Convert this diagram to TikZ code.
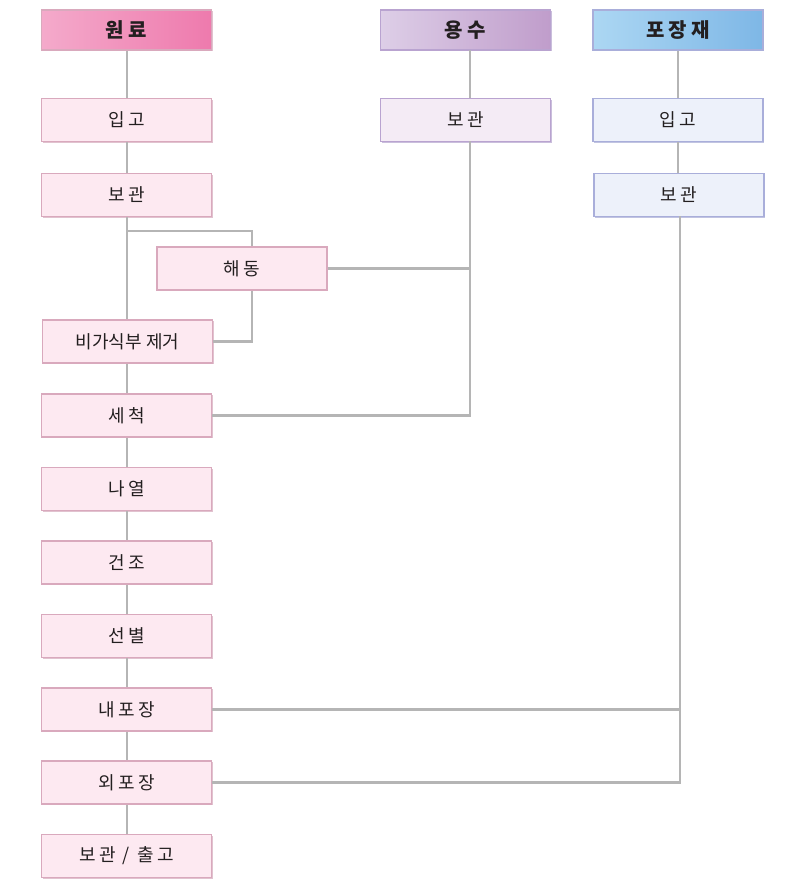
\documentclass[tikz,border=0pt]{standalone}
\usepackage{fontspec}
\setmainfont{Noto Sans CJK KR}
\newfontfamily\ks[LetterSpace=18]{Noto Sans CJK KR}
\newfontfamily\kh[LetterSpace=22]{Noto Sans CJK KR}
\usetikzlibrary{shadows}
\definecolor{lineg}{HTML}{B5B5B5}
\definecolor{pinkfill}{HTML}{FDE9F1}
\definecolor{pinkedge}{HTML}{D9A9BD}
\definecolor{pinkshadow}{HTML}{C98FA8}
\definecolor{lavfill}{HTML}{F4EBF5}
\definecolor{lavedge}{HTML}{B9A3D0}
\definecolor{lavshadow}{HTML}{9F88C0}
\definecolor{bluefill}{HTML}{EDF1FA}
\definecolor{blueedge}{HTML}{A9AEDA}
\definecolor{blueshadow}{HTML}{8E93C8}
\definecolor{txt}{HTML}{231F20}
\tikzset{
  base/.style={rectangle, minimum width=127.5pt, minimum height=32.25pt, inner sep=0pt,
     text=txt, font=\ks\fontsize{13.5}{16}\selectfont, line width=0.9pt},
  pinkbox/.style={base, fill=pinkfill, draw=pinkedge,
     drop shadow={shadow xshift=1pt, shadow yshift=-1pt, fill=pinkshadow, opacity=0.55}},
  lavbox/.style={base, fill=lavfill, draw=lavedge,
     drop shadow={shadow xshift=1pt, shadow yshift=-1pt, fill=lavshadow, opacity=0.55}},
  bluebox/.style={base, fill=bluefill, draw=blueedge,
     drop shadow={shadow xshift=1pt, shadow yshift=-1pt, fill=blueshadow, opacity=0.55}},
  head/.style={base, minimum height=30pt, font=\kh\bfseries\fontsize{15}{18}\selectfont},
  conn/.style={draw=lineg, line width=1.6pt},
}
\begin{document}
\begin{tikzpicture}[x=0.75pt,y=-0.75pt]
\useasboundingbox (0,0) rectangle (800,891);
% headers
\node[head, left color={rgb,255:red,244;green,170;blue,203}, right color={rgb,255:red,238;green,122;blue,173},
      draw=pinkedge, drop shadow={shadow xshift=1pt, shadow yshift=-1pt, fill=pinkshadow, opacity=0.55}] (h1) at (126.5,30) {원료};
\node[head, left color={rgb,255:red,221;green,206;blue,231}, right color={rgb,255:red,192;green,157;blue,203},
      draw=lavedge, drop shadow={shadow xshift=1pt, shadow yshift=-1pt, fill=lavshadow, opacity=0.55}] (h2) at (465.5,30) {용수};
\node[head, left color={rgb,255:red,172;green,215;blue,243}, right color={rgb,255:red,126;green,183;blue,230},
      draw=blueedge, drop shadow={shadow xshift=1pt, shadow yshift=-1pt, fill=blueshadow, opacity=0.55}] (h3) at (678,30) {포장재};
% main column
\node[pinkbox] (a1) at (126.5,120) {입고};
\node[pinkbox] (a2) at (126.5,195) {보관};
\node[pinkbox] (hd) at (242,268.5) {해동};
\node[pinkbox, font=\rmfamily\fontsize{13.5}{16}\selectfont] (a3) at (127.5,341.5) {비가식부 제거};
\node[pinkbox] (a4) at (126.5,415.5) {세척};
\node[pinkbox] (a5) at (126.5,489) {나열};
\node[pinkbox] (a6) at (126.5,562.5) {건조};
\node[pinkbox] (a7) at (126.5,636) {선별};
\node[pinkbox] (a8) at (126.5,709.5) {내포장};
\node[pinkbox] (a9) at (126.5,782.5) {외포장};
\node[pinkbox] (a10) at (126.5,856) {보관 / 출고};
% water
\node[lavbox] (w1) at (465.5,120) {보관};
% packaging
\node[bluebox] (p1) at (678,120) {입고};
\node[bluebox] (p2) at (679,195) {보관};
% coordinates
\coordinate (j1) at (127,231);
\coordinate (j2) at (252,231);
\coordinate (j3) at (252,341.5);
\coordinate (wx1) at (470,50);
\coordinate (wx2) at (470,98);
\coordinate (wx3) at (470,141.5);
\coordinate (wx4) at (470,268.5);
\coordinate (wx5) at (470,415.5);
\coordinate (px) at (680,709.5);
\coordinate (py) at (680,782.5);
\coordinate (pt2) at (680,216.5);
% connectors main
\draw[conn] (h1.south -| 127,0) -- (a1.north -| 127,0);
\draw[conn] (a1.south -| 127,0) -- (a2.north -| 127,0);
\draw[conn] (a2.south -| 127,0) -- (a3.north -| 127,0);
\draw[conn] (j1) -- (j2) -- (j2 |- hd.north);
\draw[conn] (j2 |- hd.south) -- (j3) -- (a3.east);
\draw[conn] (a3.south -| 127,0) -- (a4.north -| 127,0);
\draw[conn] (a4.south -| 127,0) -- (a5.north -| 127,0);
\draw[conn] (a5.south -| 127,0) -- (a6.north -| 127,0);
\draw[conn] (a6.south -| 127,0) -- (a7.north -| 127,0);
\draw[conn] (a7.south -| 127,0) -- (a8.north -| 127,0);
\draw[conn] (a8.south -| 127,0) -- (a9.north -| 127,0);
\draw[conn] (a9.south -| 127,0) -- (a10.north -| 127,0);
% water connectors
\draw[conn] (wx1) -- (wx2);
\draw[conn] (wx3) -- (wx5) -- (a4.east);
\draw[conn] (hd.east) -- (wx4);
% packaging connectors
\draw[conn] (h3.south) -- (p1.north);
\draw[conn] (p1.south) -- (p2.north -| p1.south);
\draw[conn] (pt2) -- (py) -- (a9.east);
\draw[conn] (a8.east) -- (px);
\end{tikzpicture}
\end{document}
